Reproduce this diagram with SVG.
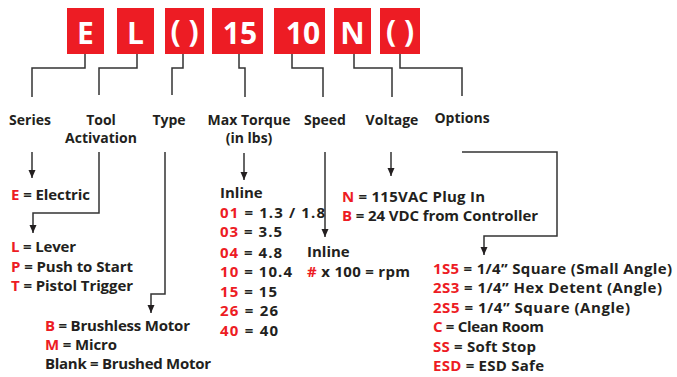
<svg xmlns="http://www.w3.org/2000/svg" width="677" height="377" viewBox="0 0 677 377">
<style>
.box{fill:#ED1C24}
.bt{font-family:"Open Sans","Noto Sans",sans-serif;font-weight:bold;font-size:30px;fill:#fff;text-anchor:middle}
.lbl{font-family:"Open Sans","Noto Sans",sans-serif;font-weight:bold;font-size:14px;fill:#231F20;text-anchor:middle}
.t{font-family:"Open Sans","Noto Sans",sans-serif;font-weight:bold;font-size:15px;fill:#231F20}
.r{fill:#ED1C24}
.ln{fill:none;stroke:#333;stroke-width:1.5}
.ar{fill:none;stroke:#333;stroke-width:1.5;marker-end:url(#ah)}
</style>
<defs>
<marker id="ah" markerUnits="userSpaceOnUse" markerWidth="8" markerHeight="8" refX="8" refY="4" orient="auto">
<path d="M0,0.5 L8,4 L0,7.5 z" fill="#231F20"/>
</marker>
</defs>
<g id="code-E"><rect class="box" x="67" y="8" width="37" height="46"/><text class="bt" x="85.5" y="44">E</text></g>
<g id="code-L"><rect class="box" x="117" y="8" width="37" height="46"/><text class="bt" x="135.5" y="44">L</text></g>
<g id="code-type"><rect class="box" x="165" y="8" width="39" height="46"/><text class="bt" x="184.5" y="42">( )</text></g>
<g id="code-15"><rect class="box" x="212" y="8" width="51" height="46"/><text class="bt" x="240" y="44">15</text></g>
<g id="code-10"><rect class="box" x="274" y="8" width="51" height="46"/><text class="bt" x="303" y="44">10</text></g>
<g id="code-N"><rect class="box" x="334" y="8" width="37" height="46"/><text class="bt" x="352.5" y="44">N</text></g>
<g id="code-options"><rect class="box" x="380" y="8" width="40" height="46"/><text class="bt" x="400" y="42">( )</text></g>

<g id="connectors">
<polyline class="ln" points="85,54 85,68 32,68 32,97"/>
<polyline class="ln" points="137,54 137,68 99,68 99,95"/>
<polyline class="ln" points="183,54 183,68 172,68 172,95"/>
<polyline class="ln" points="239,54 239,68 245,68 245,97"/>
<polyline class="ln" points="292,54 292,68 323,68 323,97"/>
<polyline class="ln" points="354,54 354,68 392,68 392,97"/>
<polyline class="ln" points="400,54 400,68 462,68 462,96"/>
<polyline class="ar" points="32,152 32,178"/>
<polyline class="ar" points="99,152 99,213 33,213 33,233"/>
<polyline class="ar" points="165,152 165,294 151,294 151,313"/>
<polyline class="ar" points="244,153 244,180"/>
<polyline class="ar" points="325,152 325,237"/>
<polyline class="ar" points="391,152 391,176"/>
<polyline class="ar" points="462,152 557,152 557,236 484,236 484,255"/>
</g>

<g id="label-series"><text class="lbl" x="30" y="125">Series</text></g>
<g id="label-tool"><text class="lbl" x="101" y="125">Tool</text><text class="lbl" x="101" y="143">Activation</text></g>
<g id="label-type"><text class="lbl" x="169" y="125">Type</text></g>
<g id="label-torque"><text class="lbl" x="249" y="125">Max Torque</text><text class="lbl" x="249" y="143">(in lbs)</text></g>
<g id="label-speed"><text class="lbl" x="325" y="125">Speed</text></g>
<g id="label-voltage"><text class="lbl" x="392" y="125">Voltage</text></g>
<g id="label-options"><text class="lbl" x="462" y="123">Options</text></g>

<g id="series-values"><text class="t" x="11" y="200" textLength="79" lengthAdjust="spacing"><tspan class="r">E</tspan> = Electric</text></g>
<g id="activation-values">
<text class="t" x="11" y="252" textLength="65" lengthAdjust="spacing"><tspan class="r">L</tspan> = Lever</text>
<text class="t" x="11" y="272" textLength="122" lengthAdjust="spacing"><tspan class="r">P</tspan> = Push to Start</text>
<text class="t" x="11" y="291" textLength="122" lengthAdjust="spacing"><tspan class="r">T</tspan> = Pistol Trigger</text>
</g>
<g id="type-values">
<text class="t" x="45" y="331" textLength="145" lengthAdjust="spacing"><tspan class="r">B</tspan> = Brushless Motor</text>
<text class="t" x="45" y="350" textLength="72" lengthAdjust="spacing"><tspan class="r">M</tspan> = Micro</text>
<text class="t" x="45" y="369" textLength="166" lengthAdjust="spacing">Blank = Brushed Motor</text>
</g>
<g id="torque-values">
<text class="t" x="220" y="198">Inline</text>
<text class="t" x="220" y="218" textLength="105" lengthAdjust="spacing"><tspan class="r">01</tspan> = 1.3 / 1.8</text>
<text class="t" x="220" y="237" textLength="62" lengthAdjust="spacing"><tspan class="r">03</tspan> = 3.5</text>
<text class="t" x="220" y="258" textLength="62" lengthAdjust="spacing"><tspan class="r">04</tspan> = 4.8</text>
<text class="t" x="220" y="277" textLength="72" lengthAdjust="spacing"><tspan class="r">10</tspan> = 10.4</text>
<text class="t" x="220" y="297" textLength="57" lengthAdjust="spacing"><tspan class="r">15</tspan> = 15</text>
<text class="t" x="220" y="316" textLength="58" lengthAdjust="spacing"><tspan class="r">26</tspan> = 26</text>
<text class="t" x="220" y="336" textLength="58" lengthAdjust="spacing"><tspan class="r">40</tspan> = 40</text>
</g>
<g id="speed-values">
<text class="t" x="307" y="257">Inline</text>
<text class="t" x="307" y="277" textLength="103" lengthAdjust="spacing"><tspan class="r">#</tspan> x 100 = rpm</text>
</g>
<g id="voltage-values">
<text class="t" x="342" y="202" textLength="143" lengthAdjust="spacing"><tspan class="r">N</tspan> = 115VAC Plug In</text>
<text class="t" x="342" y="221" textLength="196" lengthAdjust="spacing"><tspan class="r">B</tspan> = 24 VDC from Controller</text>
</g>
<g id="options-values">
<text class="t" x="433" y="274" textLength="239" lengthAdjust="spacing"><tspan class="r">1S5</tspan> = 1/4” Square (Small Angle)</text>
<text class="t" x="433" y="293" textLength="229" lengthAdjust="spacing"><tspan class="r">2S3</tspan> = 1/4” Hex Detent (Angle)</text>
<text class="t" x="433" y="313" textLength="197" lengthAdjust="spacing"><tspan class="r">2S5</tspan> = 1/4” Square (Angle)</text>
<text class="t" x="433" y="332" textLength="111" lengthAdjust="spacing"><tspan class="r">C</tspan> = Clean Room</text>
<text class="t" x="433" y="352" textLength="103" lengthAdjust="spacing"><tspan class="r">SS</tspan> = Soft Stop</text>
<text class="t" x="433" y="371" textLength="111" lengthAdjust="spacing"><tspan class="r">ESD</tspan> = ESD Safe</text>
</g>
</svg>
